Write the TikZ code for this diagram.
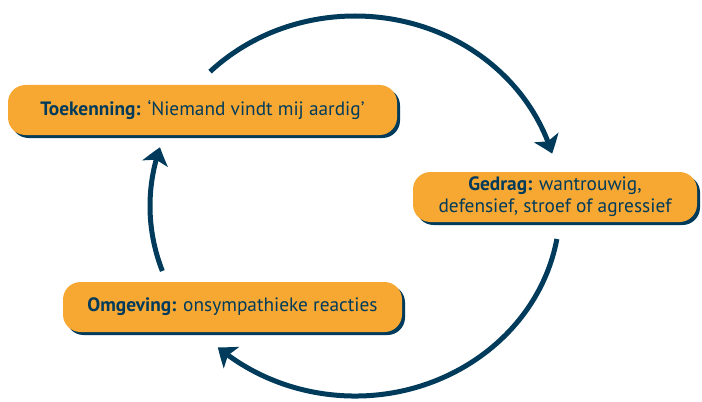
\documentclass[tikz,border=0pt]{standalone}
\usepackage{fontspec}
\setmainfont{PT Sans}
\usetikzlibrary{arrows.meta,bending,shadows}
\definecolor{navy}{HTML}{003B5C}
\definecolor{oranje}{HTML}{F7A833}
\tikzset{
	kader/.style={rectangle, rounded corners=0.35cm, fill=oranje, text=navy, align=center,
		minimum height=1cm, inner sep=0pt, font=\fontsize{11}{12.5}\selectfont,
		drop shadow={shadow xshift=0.06cm, shadow yshift=-0.06cm, fill=navy, opacity=1}},
	pijl/.style={navy, line width=0.1cm, -{Stealth[length=0.34cm, width=0.52cm, inset=0.08cm, bend]}}
}

\begin{document}
\begin{tikzpicture}
			%%%%% START %%%%%
			\useasboundingbox (0, 0) rectangle (14.04, 8.02);
			\coordinate (midden) at (7.1, 3.9);
			
			\draw[pijl] ([shift={(135:4.1 and 3.8)}]midden) arc[start angle=135, end angle=16, x radius=4.1, y radius=3.8];
			\draw[pijl] ([shift={(-10:4.1 and 3.8)}]midden) arc[start angle=-10, end angle=-132, x radius=4.1, y radius=3.8];
			\draw[pijl] ([shift={(200:4.1 and 3.8)}]midden) arc[start angle=200, end angle=162, x radius=4.1, y radius=3.8];
			
			\node[kader, minimum width=7.78cm] (toekenning) at (4.05, 5.82) {\textbf{Toekenning:} ‘Niemand vindt mij aardig’};
			\node[kader, minimum width=5.68cm] (gedrag) at (11.1, 4.08) {\textbf{Gedrag:} wantrouwig,\\defensief, stroef of agressief};
			\node[kader, minimum width=6.78cm] (omgeving) at (4.65, 1.88) {\textbf{Omgeving:} onsympathieke reacties};
			%%%%% END %%%%%
\end{tikzpicture}
\end{document}
